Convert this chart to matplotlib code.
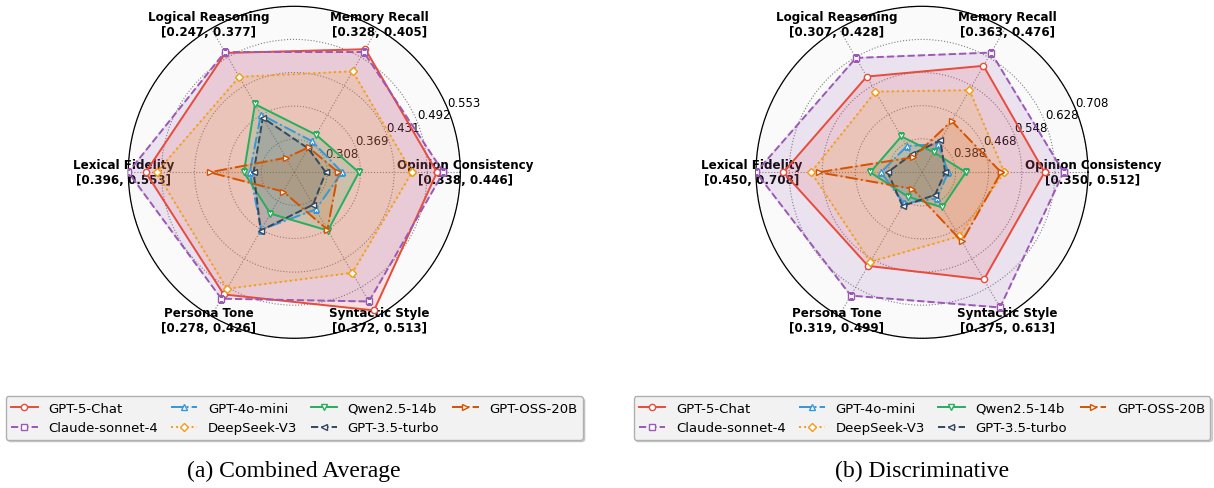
import numpy as np
import matplotlib
matplotlib.use('Agg')
import matplotlib.pyplot as plt
from matplotlib.lines import Line2D

# axes order: counter-clockwise from 0 deg
dims = ["Opinion Consistency", "Memory Recall", "Logical Reasoning",
        "Lexical Fidelity", "Persona Tone", "Syntactic Style"]

models = ["GPT-5-Chat", "Claude-sonnet-4", "GPT-4o-mini", "DeepSeek-V3",
          "Qwen2.5-14b", "GPT-3.5-turbo", "GPT-OSS-20B"]

# (a) Combined Average
ranges_a = ["[0.338, 0.446]", "[0.328, 0.405]", "[0.247, 0.377]",
            "[0.396, 0.553]", "[0.278, 0.426]", "[0.372, 0.513]"]
rmin_a = 0.247
rticks_a = [0.308, 0.369, 0.431, 0.492, 0.553]
vals_a = {
    "GPT-5-Chat":      [0.510, 0.509, 0.501, 0.521, 0.507, 0.541],
    "Claude-sonnet-4": [0.522, 0.503, 0.503, 0.553, 0.516, 0.522],
    "GPT-4o-mini":     [0.335, 0.313, 0.370, 0.329, 0.369, 0.326],
    "DeepSeek-V3":     [0.464, 0.462, 0.450, 0.501, 0.495, 0.461],
    "Qwen2.5-14b":     [0.366, 0.327, 0.392, 0.340, 0.335, 0.371],
    "GPT-3.5-turbo":   [0.305, 0.298, 0.363, 0.322, 0.371, 0.316],
    "GPT-OSS-20B":     [0.328, 0.300, 0.278, 0.403, 0.288, 0.369],
}

# (b) Discriminative
ranges_b = ["[0.350, 0.512]", "[0.363, 0.476]", "[0.307, 0.428]",
            "[0.450, 0.708]", "[0.319, 0.499]", "[0.375, 0.613]"]
rmin_b = 0.307
rticks_b = [0.388, 0.468, 0.548, 0.628, 0.708]
vals_b = {
    "GPT-5-Chat":      [0.603, 0.604, 0.574, 0.642, 0.568, 0.606],
    "Claude-sonnet-4": [0.649, 0.641, 0.626, 0.708, 0.651, 0.684],
    "GPT-4o-mini":     [0.370, 0.386, 0.380, 0.406, 0.394, 0.380],
    "DeepSeek-V3":     [0.506, 0.536, 0.532, 0.575, 0.557, 0.486],
    "Qwen2.5-14b":     [0.413, 0.363, 0.407, 0.432, 0.375, 0.405],
    "GPT-3.5-turbo":   [0.363, 0.396, 0.357, 0.390, 0.401, 0.370],
    "GPT-OSS-20B":     [0.498, 0.450, 0.349, 0.557, 0.353, 0.500],
}

styles = {
    "GPT-5-Chat":      dict(color="#e74c3c", ls="-",  marker="o", ms=4.5),
    "Claude-sonnet-4": dict(color="#9b59b6", ls="--", marker="s", ms=5),
    "GPT-4o-mini":     dict(color="#3498db", ls="-.", marker="^", ms=4.5),
    "DeepSeek-V3":     dict(color="#f39c12", ls=":",  marker="D", ms=4),
    "Qwen2.5-14b":     dict(color="#27ae60", ls="-",  marker="v", ms=4.5),
    "GPT-3.5-turbo":   dict(color="#34495e", ls="--", marker="<", ms=4.5),
    "GPT-OSS-20B":     dict(color="#d35400", ls="-.", marker=">", ms=4.5),
}

W, H = 1214, 489
fig = plt.figure(figsize=(W / 100, H / 100), dpi=100)

angles = np.deg2rad(np.arange(0, 360, 60))
closed = np.append(angles, angles[0])


def radar(cx, vals, ranges, rmin, rticks, caption):
    R = 166
    cy = 173.3
    ax = fig.add_axes([(cx - R) / W, (H - cy - R) / H, 2 * R / W, 2 * R / H],
                      projection="polar")
    ax.set_facecolor("#fafafa")
    for m in models:
        st = styles[m]
        v = vals[m]
        v = v + [v[0]]
        ax.plot(closed, v, color=st["color"], linestyle=st["ls"], lw=1.4,
                marker=st["marker"], ms=st["ms"], mfc="white",
                mec=st["color"], mew=1.0, label=m, zorder=3)
        ax.fill(closed, v, color=st["color"], alpha=0.15, zorder=2)
    ax.set_ylim(rmin, rticks[-1])
    ax.set_yticks(rticks)
    ax.set_yticklabels(["%.3f" % t for t in rticks], fontsize=8.5)
    ax.set_rlabel_position(22.5)
    ax.set_xticks(angles)
    ax.set_xticklabels(["%s\n%s" % (d, r) for d, r in zip(dims, ranges)],
                       fontsize=8.6, fontweight="bold")
    ax.tick_params(axis="x", pad=-7)
    ax.grid(True, color="#808080", linestyle=":", linewidth=0.8)
    ax.spines["polar"].set_color("black")
    ax.spines["polar"].set_linewidth(0.9)

    handles = [Line2D([], [], color=styles[m]["color"], ls=styles[m]["ls"],
                      lw=1.4, marker=styles[m]["marker"], ms=styles[m]["ms"],
                      mfc="white", mec=styles[m]["color"], mew=1.0)
               for m in models]
    fig.legend(handles, models, loc="center", ncol=4, fontsize=9.5,
               bbox_to_anchor=(cx / W, 1 - 419 / H), fancybox=True,
               shadow={"alpha": 0.2, "ox": 1.5, "oy": -1.5},
               facecolor="#f2f2f2", edgecolor="#b0b0b0", framealpha=1,
               handlelength=2.0, handletextpad=0.8, columnspacing=1.0)
    fig.text(cx / W, 1 - 471 / H, caption, ha="center", va="center",
             fontsize=17, family="Liberation Serif")
    return ax


radar(294.3, vals_a, ranges_a, rmin_a, rticks_a, "(a) Combined Average")
radar(922.0, vals_b, ranges_b, rmin_b, rticks_b, "(b) Discriminative")

fig.savefig("out.png", dpi=100)
